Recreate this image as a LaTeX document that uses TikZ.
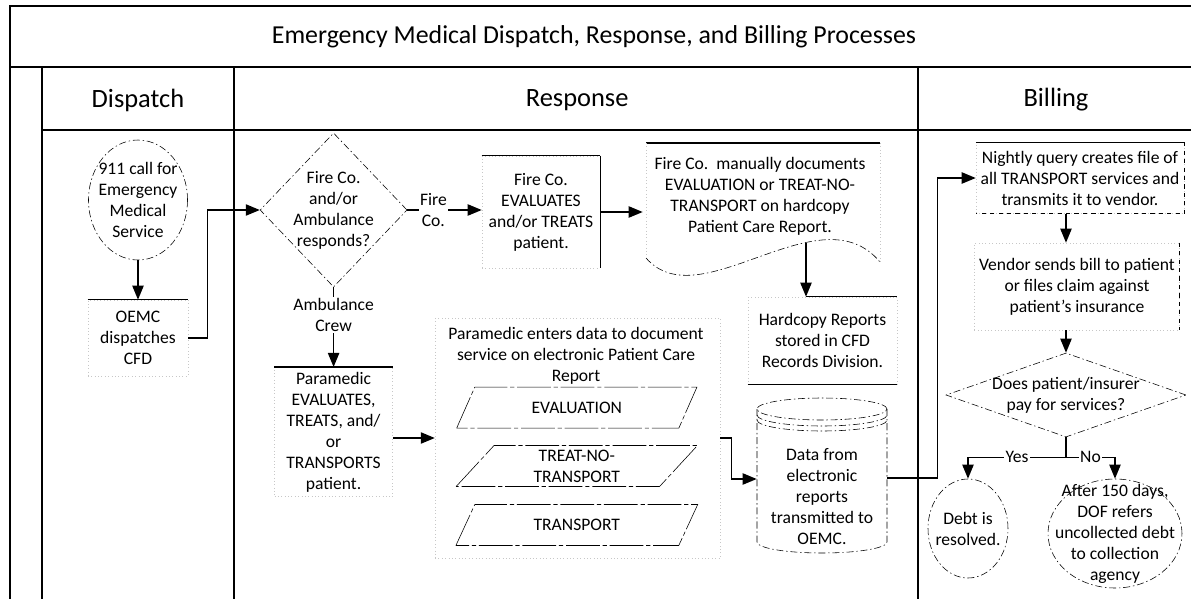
\documentclass[tikz,border=0pt]{standalone}
\usepackage{fontspec}
\setmainfont{Carlito}
\usetikzlibrary{arrows.meta,shapes.geometric}
\newcommand{\bodyfont}{\fontsize{12.5}{14.94}\selectfont}

\begin{document}
\begin{tikzpicture}[
    txt/.style={align=center, font=\bodyfont},
    lbl/.style={txt, fill=white, inner sep=1pt},
    arr/.style={line width=1.1pt, -{Triangle[length=10pt,width=8pt]}},
    lane/.style={line width=1.2pt},
    sketchy/.style={draw, thin, dash pattern=on 5pt off 2pt on 1pt off 2pt},
    faint/.style={draw=black!22, dotted, thin},
    rule/.style={line width=0.8pt},
    proc/.style={txt, rectangle, faint},
    term/.style={ellipse, sketchy},
    decision/.style={diamond, sketchy},
    pgram/.style={txt, trapezium, trapezium left angle=60, trapezium right angle=120,
        trapezium stretches=true, draw, thin, dash pattern=on 24pt off 2pt on 3pt off 2pt,
        minimum width=6.05cm, minimum height=1.025cm, inner sep=1pt}
]
\useasboundingbox (0,0) rectangle (29.775,-14.975);

    % Lanes
    \draw[lane] (0.25,-15.2) -- (0.25,-0.15) -- (30,-0.15);
    \draw[lane] (0.25,-1.675) -- (30,-1.675);
    \draw[lane] (1.05,-3.25) -- (30,-3.25);
    \foreach \x in {1.05,5.85,22.95}
        \draw[lane] (\x,-1.675) -- (\x,-15.2);

    \node[font=\fontsize{18.4}{22}\selectfont] (title) at (14.85,-0.925) {Emergency Medical Dispatch, Response, and Billing Processes};
    \node[font=\fontsize{18.8}{22}\selectfont] (hdisp) at (3.45,-2.5) {Dispatch};
    \node[font=\fontsize{18.8}{22}\selectfont] (hresp) at (14.43,-2.5) {Response};
    \node[font=\fontsize{18.8}{22}\selectfont] (hbill) at (26.4,-2.5) {Billing};

    % Dispatch
    \node[term, minimum width=2.475cm, minimum height=3cm,
        label={[txt]center:{911 call for\\Emergency\\Medical\\Service}}] (call) at (3.45,-5) {};
    \node[proc, minimum width=2.5cm, minimum height=1.9cm] (oemc) at (3.45,-8.45) {OEMC\\dispatches\\CFD};
    \draw[arr] (call) -- (oemc);

    % Response
    \node[decision, minimum width=3.675cm, minimum height=3.85cm,
        label={[txt]center:{Fire Co.\\and/or\\Ambulance\\responds?}}] (ask) at (8.34,-5.25) {};
    \node[proc, minimum width=2.95cm, minimum height=2.8cm] (fireeval) at (13.525,-5.3) {Fire Co.\\EVALUATES\\and/or TREATS\\patient.};
    \node[txt, minimum width=5.85cm] (manual) at (19.0,-4.9) {Fire Co.\ \ manually documents\\EVALUATION or TREAT-NO-\\TRANSPORT on hardcopy\\Patient Care Report.};
    \coordinate (wave) at (20.15,-6.075);
    \node[proc, minimum width=3.725cm, minimum height=2.175cm] (hardcopy) at (20.5625,-8.5125) {Hardcopy Reports\\stored in CFD\\Records Division.};

    \node[proc, minimum width=2.95cm, minimum height=3.225cm] (para) at (8.34,-10.8) {Paramedic\\EVALUATES,\\TREATS, and/\\or\\TRANSPORTS\\patient.};
    \node[faint, minimum width=7.125cm, minimum height=6cm] (entrybox) at (14.44,-10.95) {};
    \node[txt] (entry) at (14.4,-8.9) {Paramedic enters data to document\\service on electronic Patient Care\\Report};
    \foreach \y/\t/\n in {-10.19/EVALUATION/pev, -11.65/{TREAT-NO-\\TRANSPORT}/ptnt, -13.125/TRANSPORT/ptr}
        \node[pgram] (\n) at (14.42,\y) {\t};
    \node[txt, minimum width=3.25cm] (data) at (20.55,-12.425) {Data from\\electronic\\reports\\transmitted to\\OEMC.};

    % Billing
    \node[proc, minimum width=5.125cm, minimum height=1.775cm] (nightly) at (27.0,-4.45) {Nightly query creates file of\\all TRANSPORT services and\\transmits it to vendor.};
    \node[proc, minimum width=5cm, minimum height=2.175cm] (vendor) at (26.925,-7.1625) {Vendor sends bill to patient\\or files claim against\\patient’s insurance};
    \node[decision, minimum width=6cm, minimum height=2.1cm,
        label={[txt]center:{Does patient/insurer\\pay for services?}}] (pay) at (26.65,-9.875) {};
    \node[term, minimum width=2cm, minimum height=2.475cm,
        label={[txt]center:{Debt is\\resolved.}}] (debt) at (24.2,-13.2125) {};
    \node[term, minimum width=3.35cm, minimum height=2.725cm,
        label={[txt]center:{After 150 days,\\DOF refers\\uncollected debt\\to collection\\agency}}] (refer) at (27.875,-13.3375) {};

    % box edges that print solid
    \foreach \n in {oemc,fireeval,para,nightly}
        \draw[rule] (\n.north west) -- (\n.north east);
    \draw[rule] (fireeval.north east) -- (fireeval.south east);
    \draw[rule] (wave |- hardcopy.north) -- (hardcopy.north east);
    \draw[rule] (hardcopy.south west) -- (hardcopy.south east);
    \draw[rule, dashed] (nightly.north east) -- (nightly.south east) -- (nightly.south west);
    \draw[rule, dashed] (vendor.north east) -- (vendor.south east);

    % hardcopy document
    \draw[rule] (16.15,-3.575) -- (22,-3.575);
    \draw[faint] (16.15,-3.575) -- (16.15,-6.45);
    \draw[faint] (22,-3.575) -- (22,-6.55);
    \draw[sketchy] (16.15,-6.45) .. controls (17.5,-8) and (20.5,-4.75) .. (22,-6.55);

    % database
    \draw[sketchy] (20.55,-10.225) ellipse (1.625 and 0.275);
    \foreach \d in {0.15,0.275}
        \draw[sketchy] (18.925,-10.225-\d) arc (180:360:1.625 and 0.275);
    \draw[sketchy] (18.925,-10.225) -- (18.925,-13.55) arc (180:360:1.625 and 0.275) -- (22.175,-10.225);

    % Flow
    \draw[arr] (oemc.east) -- ++(0.475,0) |- (ask.west);
    \draw[arr] (ask.east) -- node[lbl, pos=0.35] {Fire\\Co.} (ask.east -| fireeval.west);
    \draw[arr] (ask.south) -- node[lbl, pos=0.35] {Ambulance\\Crew} (para.north);
    \draw[arr] (fireeval.east) -- (fireeval.east -| manual.west);
    \draw[arr] (wave) -- (wave |- hardcopy.north);
    \draw[arr] (para.east |- entrybox.west) -- (entrybox.west);
    \draw[arr] (entrybox.east) -- ++(0.275,0) |- ([yshift=0.45cm]data.west);
    \draw[arr] ([yshift=0.475cm]data.east) -- ++(1.25,0) |- (nightly.west);
    \draw[arr] (nightly.south -| pay.north) -- (vendor.north -| pay.north);
    \draw[arr] (vendor.south -| pay.north) -- (pay.north);
    \draw[arr] (pay.south) -- ++(0,-0.5) -| node[lbl, pos=0.25] {Yes} (debt.north);
    \draw[arr] (pay.south) ++(0,-0.5) -| node[lbl, pos=0.25] {No} (refer.north);

\end{tikzpicture}
\end{document}
